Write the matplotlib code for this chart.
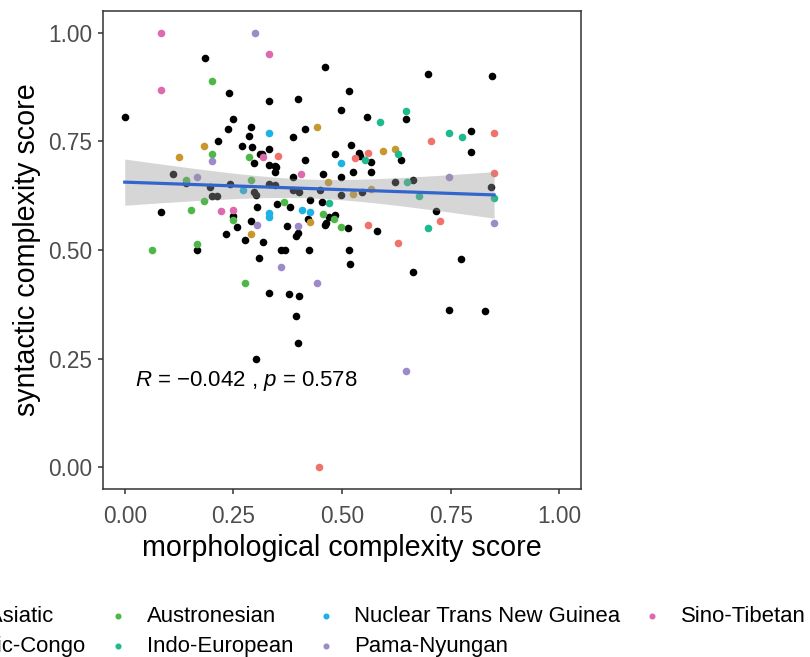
import matplotlib
matplotlib.use('Agg')
import matplotlib.pyplot as plt
import numpy as np

plt.rcParams['font.family'] = ['Liberation Sans', 'DejaVu Sans']
plt.rcParams['mathtext.fontset'] = 'custom'
plt.rcParams['mathtext.rm'] = 'Liberation Sans'
plt.rcParams['mathtext.it'] = 'Liberation Sans:italic'

# families in legend order, plus the unlabelled (black) languages
families = ['Afro-Asiatic', 'Atlantic-Congo', 'Austronesian', 'Indo-European',
            'Nuclear Trans New Guinea', 'Pama-Nyungan', 'Sino-Tibetan']
colours = ['#F0736B', '#C8982F', '#4DB848', '#1EB98D', '#1CB2E6', '#9D8AC9', '#DD6AAE']

other_x = [0.185, 0.241, 0.0, 0.25, 0.238, 0.291, 0.285, 0.214, 0.270, 0.292, 0.298, 0.312,
           0.461, 0.516, 0.333, 0.399, 0.498, 0.558, 0.647, 0.415, 0.387, 0.333, 0.521, 0.636,
           0.315, 0.333, 0.345, 0.415, 0.484, 0.539, 0.567, 0.541,
           0.697, 0.845, 0.796, 0.796,
           0.112, 0.140, 0.197, 0.242, 0.200, 0.213, 0.298, 0.302, 0.084, 0.250, 0.259, 0.291,
           0.304, 0.233, 0.277, 0.167, 0.310,
           0.333, 0.346, 0.348, 0.346, 0.387, 0.457, 0.498, 0.525, 0.567, 0.387, 0.401, 0.449,
           0.498, 0.546, 0.622, 0.664, 0.351, 0.381, 0.427, 0.453, 0.421, 0.470, 0.484, 0.462,
           0.464, 0.513, 0.374, 0.399, 0.393, 0.581, 0.319, 0.359, 0.368, 0.424, 0.516,
           0.519, 0.663, 0.333, 0.377, 0.402, 0.395,
           0.844, 0.716, 0.773, 0.746, 0.828,
           0.399, 0.302]
other_y = [0.942, 0.861, 0.805, 0.801, 0.778, 0.783, 0.762, 0.750, 0.739, 0.737, 0.700, 0.720,
           0.921, 0.867, 0.843, 0.847, 0.822, 0.806, 0.801, 0.778, 0.760, 0.733, 0.741, 0.707,
           0.721, 0.695, 0.694, 0.706, 0.721, 0.723, 0.703, 0.716,
           0.906, 0.900, 0.773, 0.725,
           0.674, 0.654, 0.646, 0.651, 0.625, 0.625, 0.634, 0.626, 0.587, 0.579, 0.553, 0.567,
           0.599, 0.536, 0.524, 0.500, 0.482,
           0.653, 0.649, 0.691, 0.680, 0.668, 0.676, 0.667, 0.680, 0.680, 0.638, 0.634, 0.639,
           0.626, 0.634, 0.657, 0.660, 0.605, 0.600, 0.615, 0.611, 0.572, 0.576, 0.580, 0.557,
           0.562, 0.550, 0.555, 0.538, 0.533, 0.543, 0.519, 0.500, 0.500, 0.500, 0.500,
           0.467, 0.450, 0.402, 0.399, 0.393, 0.349,
           0.646, 0.590, 0.480, 0.363, 0.359,
           0.285, 0.249]

afro_x = [0.353, 0.529, 0.560, 0.705, 0.85, 0.85, 0.725, 0.560, 0.629, 0.448]
afro_y = [0.717, 0.712, 0.724, 0.750, 0.769, 0.677, 0.567, 0.558, 0.515, 0.0]
atlantic_x = [0.182, 0.125, 0.443, 0.595, 0.622, 0.291, 0.467, 0.525, 0.567, 0.427]
atlantic_y = [0.739, 0.715, 0.783, 0.727, 0.733, 0.536, 0.657, 0.628, 0.641, 0.565]
austronesian_x = [0.200, 0.200, 0.285, 0.140, 0.291, 0.182, 0.153, 0.250, 0.063, 0.167,
                  0.277, 0.367, 0.457, 0.481, 0.498]
austronesian_y = [0.890, 0.720, 0.715, 0.660, 0.660, 0.613, 0.591, 0.569, 0.500, 0.513,
                  0.423, 0.611, 0.582, 0.572, 0.552]
indoeuro_x = [0.647, 0.588, 0.629, 0.553, 0.746, 0.777, 0.470, 0.650, 0.677, 0.85, 0.698]
indoeuro_y = [0.819, 0.795, 0.720, 0.706, 0.769, 0.760, 0.608, 0.657, 0.625, 0.620, 0.550]
ntng_x = [0.333, 0.498, 0.272, 0.333, 0.333, 0.407, 0.427]
ntng_y = [0.769, 0.700, 0.637, 0.584, 0.577, 0.592, 0.588]
pama_x = [0.299, 0.200, 0.167, 0.304, 0.399, 0.360, 0.443, 0.746, 0.85, 0.647]
pama_y = [1.0, 0.704, 0.667, 0.558, 0.555, 0.461, 0.423, 0.667, 0.562, 0.221]
sino_x = [0.084, 0.084, 0.333, 0.318, 0.406, 0.222, 0.250]
sino_y = [1.0, 0.869, 0.952, 0.714, 0.676, 0.590, 0.591]

group_x = [afro_x, atlantic_x, austronesian_x, indoeuro_x, ntng_x, pama_x, sino_x]
group_y = [afro_y, atlantic_y, austronesian_y, indoeuro_y, ntng_y, pama_y, sino_y]

cor_label = r'$R$ = $-$0.042 , $p$ = 0.578'

fig = plt.figure(figsize=(8.1, 6.57), dpi=100)
ax = fig.add_axes([103 / 810, 1 - 489 / 657, 478 / 810, 478 / 657])

ax.scatter(other_x, other_y, s=30, color='black', linewidths=0, zorder=2)
handles = []
for gx, gy, c, name in zip(group_x, group_y, colours, families):
    h = ax.scatter(gx, gy, s=30, color=c, linewidths=0, zorder=2, label=name)
    handles.append(h)

# linear fit with 95% band over all points
all_x = np.concatenate([other_x] + group_x)
all_y = np.concatenate([other_y] + group_y)
n = len(all_x)
slope, icpt = np.polyfit(all_x, all_y, 1)
resid = all_y - (slope * all_x + icpt)
s_err = np.sqrt(np.sum(resid ** 2) / (n - 2))
xs = np.linspace(all_x.min(), all_x.max(), 100)
ys = slope * xs + icpt
half = 1.974 * s_err * np.sqrt(1 / n + (xs - all_x.mean()) ** 2 / np.sum((all_x - all_x.mean()) ** 2))
ax.fill_between(xs, ys - half, ys + half, color='#999999', alpha=0.4, linewidth=0, zorder=3)
ax.plot(xs, ys, color='#3366CC', linewidth=2.3, zorder=4)

ax.text(0.023, 0.199, cor_label, fontsize=16, va='center', ha='left')

ax.set_xlim(-0.05, 1.05)
ax.set_ylim(-0.05, 1.05)
ticks = [0, 0.25, 0.5, 0.75, 1.0]
ax.set_xticks(ticks)
ax.set_yticks(ticks)
ax.set_xticklabels(['0.00', '0.25', '0.50', '0.75', '1.00'])
ax.set_yticklabels(['0.00', '0.25', '0.50', '0.75', '1.00'])
ax.tick_params(labelsize=16.3, labelcolor='#4D4D4D', color='#333333', length=3.6, width=1.1)
ax.tick_params(axis='x', pad=8)
ax.tick_params(axis='y', pad=4)
for sp in ax.spines.values():
    sp.set_color('#333333')
    sp.set_linewidth(1.1)

ax.set_xlabel('morphological complexity score', fontsize=20.6, labelpad=4)
ax.set_ylabel('syntactic complexity score', fontsize=20.6, labelpad=5)

fig.legend(handles=handles, loc='upper right', bbox_to_anchor=(806 / 810, 1 - 606 / 657),
           ncol=4, frameon=False, fontsize=15.9, handlelength=1.0, handletextpad=0.8,
           columnspacing=0.95, labelspacing=0.42, borderpad=0, borderaxespad=0,
           markerscale=0.8)

plt.savefig('out.png', dpi=100)
